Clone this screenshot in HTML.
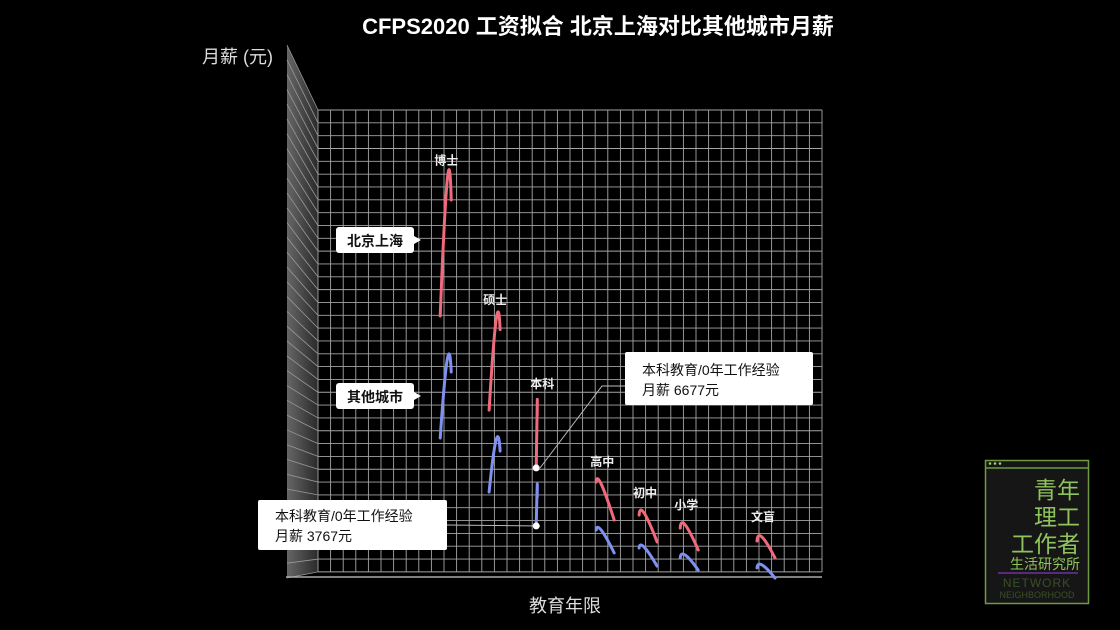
<!DOCTYPE html>
<html><head><meta charset="utf-8">
<style>
html,body{margin:0;padding:0;background:#000;}
body{width:1120px;height:630px;overflow:hidden;position:relative;font-family:"Liberation Sans","Noto Sans CJK SC",sans-serif;}
svg{position:absolute;left:0;top:0;}
</style></head>
<body>
<svg width="1120" height="630" viewBox="0 0 1120 630">
<defs>
<linearGradient id="wallg" x1="0" x2="1" y1="0" y2="0">
<stop offset="0" stop-color="#666"/><stop offset="1" stop-color="#2a2a2a"/>
</linearGradient>
</defs>
<text x="598" y="34" text-anchor="middle" fill="#fff" font-size="22" font-weight="bold" font-family="Liberation Sans,Noto Sans CJK SC,sans-serif">CFPS2020 工资拟合 北京上海对比其他城市月薪</text>
<text x="202" y="63" fill="#ddd" font-size="18" font-family="Liberation Sans,Noto Sans CJK SC,sans-serif">月薪 (元)</text>
<text x="565" y="612" text-anchor="middle" fill="#ddd" font-size="18" font-family="Liberation Sans,Noto Sans CJK SC,sans-serif">教育年限</text>
<polygon points="287,45 318,110 318,572 287,578" fill="url(#wallg)"/>
<g id="grid"></g>
<g id="sidegrid"></g>
<line x1="286" y1="577" x2="822" y2="577" stroke="#aaa" stroke-width="1.5"/>
<g id="series"></g>
<g id="labels"></g>

<g>
<rect x="336" y="227" width="78" height="26" rx="3" fill="#fff"/>
<polygon points="414,236 421,240 414,244" fill="#fff"/>
<text x="375" y="246" text-anchor="middle" font-size="14" font-weight="bold" fill="#111" font-family="Liberation Sans,Noto Sans CJK SC,sans-serif">北京上海</text>
</g>
<g>
<rect x="336" y="383" width="78" height="26" rx="3" fill="#fff"/>
<polygon points="414,392 421,396 414,400" fill="#fff"/>
<text x="375" y="402" text-anchor="middle" font-size="14" font-weight="bold" fill="#111" font-family="Liberation Sans,Noto Sans CJK SC,sans-serif">其他城市</text>
</g>

<g>
<polyline points="540,468 602,386 625,386" fill="none" stroke="#bbb" stroke-width="1"/>
<rect x="625" y="352" width="188" height="53" rx="2" fill="#fff"/>
<text x="642" y="375" font-size="14" fill="#111" font-family="Liberation Sans,Noto Sans CJK SC,sans-serif">本科教育/0年工作经验</text>
<text x="642" y="395" font-size="14" fill="#111" font-family="Liberation Sans,Noto Sans CJK SC,sans-serif">月薪 6677元</text>
</g>
<g>
<line x1="447" y1="525" x2="540" y2="526" stroke="#bbb" stroke-width="1"/>
<rect x="258" y="500" width="189" height="50" rx="2" fill="#fff"/>
<text x="275" y="521" font-size="14" fill="#111" font-family="Liberation Sans,Noto Sans CJK SC,sans-serif">本科教育/0年工作经验</text>
<text x="275" y="541" font-size="14" fill="#111" font-family="Liberation Sans,Noto Sans CJK SC,sans-serif">月薪 3767元</text>
</g>
<g id="dots"></g>

<g>
<rect x="985.5" y="460.5" width="103" height="143" fill="#161616" stroke="#6f9a45" stroke-width="1.5"/>
<line x1="985" y1="468" x2="1089" y2="468" stroke="#6f9a45" stroke-width="1.5"/>
<circle cx="990" cy="463.5" r="1.3" fill="#9fd060"/><circle cx="995" cy="463.5" r="1.3" fill="#9fd060"/><circle cx="1000" cy="463.5" r="1.3" fill="#9fd060"/>
<text x="1080" y="498" text-anchor="end" font-size="23" fill="#8fc45a" font-family="Noto Sans CJK SC,sans-serif">青年</text>
<text x="1080" y="525" text-anchor="end" font-size="23" fill="#8fc45a" font-family="Noto Sans CJK SC,sans-serif">理工</text>
<text x="1080" y="552" text-anchor="end" font-size="23" fill="#8fc45a" font-family="Noto Sans CJK SC,sans-serif">工作者</text>
<text x="1080" y="569" text-anchor="end" font-size="14" fill="#8fc45a" font-family="Noto Sans CJK SC,sans-serif">生活研究所</text>
<line x1="998" y1="573" x2="1078" y2="573" stroke="#5a2a7a" stroke-width="2"/>
<text x="1037" y="587" text-anchor="middle" font-size="12" fill="#3a5028" font-family="Liberation Sans,sans-serif" letter-spacing="1">NETWORK</text>
<text x="1037" y="598" text-anchor="middle" font-size="9" fill="#3a5028" font-family="Liberation Sans,sans-serif">NEIGHBORHOOD</text>
</g>
</svg>
<script>
const categories = ["博士","硕士","本科","高中","初中","小学","文盲"];
const eduYears = [22,19,16,12,9,6,0];
const bjStart = [14300,9580,6677,5970,4310,3660,3010];
const bjPeak  = [21600,14600,10390,6370,4920,4320,3710];
const bjEnd   = [21000,14500,10200,4940,3840,3440,3040];
const otStart = [8180,5470,3767,3560,2660,2160,1660];
const otPeak  = [12600,8580,6270,4060,3210,2810,2310];
const otEnd   = [12370,8400,6100,3290,2630,2430,2030];

const NS="http://www.w3.org/2000/svg";
function xScale(yrs){return 757-12.2*yrs-0.1*yrs*yrs;}
function yScale(v){return 601-0.01993*v;}
const PEAK_DY=10,END_DY=17.5;

const grid=document.getElementById('grid');
for(let i=0;i<=40;i++){
  const x=318+i*12.6;
  const l=document.createElementNS(NS,'line');
  l.setAttribute('x1',x);l.setAttribute('x2',x);l.setAttribute('y1',110);l.setAttribute('y2',572);
  l.setAttribute('stroke','#a5a5a5');l.setAttribute('stroke-width','0.9');
  
  
  grid.appendChild(l);
}
for(let j=0;j<=36;j++){
  const y=110+j*12.83;
  const l=document.createElementNS(NS,'line');
  l.setAttribute('x1',318);l.setAttribute('x2',822);l.setAttribute('y1',y);l.setAttribute('y2',y);
  l.setAttribute('stroke','#a5a5a5');l.setAttribute('stroke-width','0.9');
  
  
  grid.appendChild(l);
}
const sg=document.getElementById('sidegrid');
for(let j=0;j<=36;j++){
  const y2=110+j*12.83, y1=45+j*(533/36);
  const l=document.createElementNS(NS,'line');
  l.setAttribute('x1',287);l.setAttribute('x2',318);l.setAttribute('y1',y1);l.setAttribute('y2',y2);
  l.setAttribute('stroke','#999');l.setAttribute('stroke-width','0.8');
  
  
  sg.appendChild(l);
}

const series=document.getElementById('series');
const labels=document.getElementById('labels');
function curve(i,s,p,e,color,name){
  const x0=xScale(eduYears[i]);
  const high=eduYears[i]>14;
  const pdx=high?(eduYears[i]===16?1:7):5;
  const edx=high?(eduYears[i]===16?1:11):18;
  const sx=x0,sy=yScale(s);
  const px=x0+pdx,py=yScale(p)+PEAK_DY;
  const ex=x0+edx,ey=yScale(e)+END_DY;
  const cx=2*px-(sx+ex)/2,cy=2*py-(sy+ey)/2;
  const path=document.createElementNS(NS,'path');
  path.setAttribute('d',`M${sx},${sy} Q${cx},${cy} ${ex},${ey}`);
  path.setAttribute('fill','none');path.setAttribute('stroke',color);
  path.setAttribute('stroke-width','3');path.setAttribute('stroke-linecap','round');
  
  
  series.appendChild(path);
  return Math.min(sy,py,ey);
}
categories.forEach((c,i)=>{
  const top=curve(i,bjStart[i],bjPeak[i],bjEnd[i],'#f06a7c','beijing-curve-'+i);
  curve(i,otStart[i],otPeak[i],otEnd[i],'#7f90ee','other-curve-'+i);
  const t=document.createElementNS(NS,'text');
  t.setAttribute('x',xScale(eduYears[i])+6);t.setAttribute('y',top-16);
  t.setAttribute('text-anchor','middle');t.setAttribute('fill','#eee');
  t.setAttribute('font-size','12');t.setAttribute('font-weight','bold');
  t.setAttribute('font-family','Liberation Sans,Noto Sans CJK SC,sans-serif');
  t.textContent=c;
  
  
  labels.appendChild(t);
});
const dots=document.getElementById('dots');
[bjStart[2],otStart[2]].forEach(v=>{
  const c=document.createElementNS(NS,'circle');
  c.setAttribute('cx',xScale(eduYears[2]));c.setAttribute('cy',yScale(v));
  c.setAttribute('r','3.5');c.setAttribute('fill','#fff');
  
  
  dots.appendChild(c);
});
</script>
</body></html>
